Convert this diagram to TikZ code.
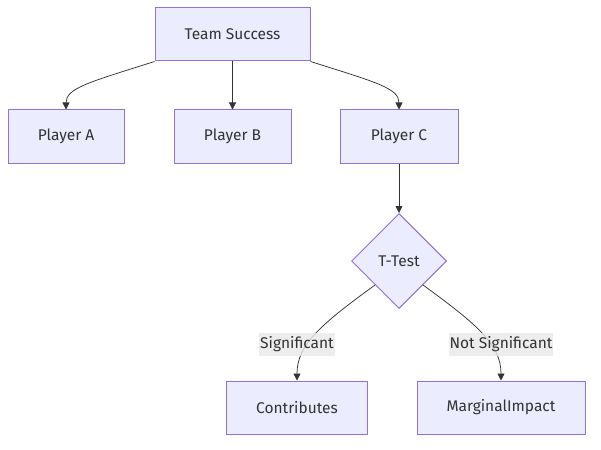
\documentclass[tikz,border=0pt]{standalone}
\usepackage{fontspec}
\setmainfont{Fira Sans}
\usetikzlibrary{shapes.geometric,arrows.meta}
\definecolor{nodefill}{HTML}{ECECFF}
\definecolor{nodeline}{HTML}{9370DB}
\definecolor{edgecol}{HTML}{333333}
\definecolor{labelbg}{HTML}{E8E8E8}
\tikzset{
  txt/.style={text=edgecol, font=\fontsize{15.5}{18}\selectfont},
  box/.style={rectangle, draw=nodeline, fill=nodefill, line width=1pt, minimum height=53pt, inner sep=0pt, txt},
  decision/.style={diamond, draw=nodeline, fill=nodefill, line width=1pt, minimum width=95pt, minimum height=95pt, aspect=1, inner sep=0pt, txt},
  edge/.style={draw=edgecol, line width=0.75pt, -{Triangle[length=7pt,width=7pt]}},
  elabel/.style={fill=labelbg, fill opacity=0.8, text opacity=1, inner xsep=1pt, inner ysep=0pt, minimum height=23pt, txt}
}
\begin{document}
\begin{tikzpicture}[x=1pt,y=-1pt]
\useasboundingbox (0,0) rectangle (601,449);
\node[box, minimum width=155pt] (ts) at (232.5,34.5) {Team Success};
\node[box, minimum width=116pt] (pa) at (66,136.5) {Player A};
\node[box, minimum width=117pt] (pb) at (232.5,136.5) {Player B};
\node[box, minimum width=118pt] (pc) at (399,136.5) {Player C};
\node[decision] (tt) at (399,261) {T-Test};
\node[box, minimum width=141pt] (co) at (297,407.5) {Contributes};
\node[box, minimum width=168pt] (mi) at (501,407.5) {MarginalImpact};

\draw[edge] (ts.south west) .. controls (90,82) and (66,88) .. (pa.north);
\draw[edge] (ts.south) -- (pb.north);
\draw[edge] (ts.south east) .. controls (375,82) and (399,88) .. (pc.north);
\draw[edge] (pc.south) -- (tt.north);
\draw[edge] (tt.south west) .. controls (320,325) and (297,345) .. (co.north);
\draw[edge] (tt.south east) .. controls (478,325) and (501,345) .. (mi.north);

\node[elabel] (ls) at (297,344.5) {Significant};
\node[elabel] (lns) at (501,344.5) {Not Significant};
\end{tikzpicture}
\end{document}
